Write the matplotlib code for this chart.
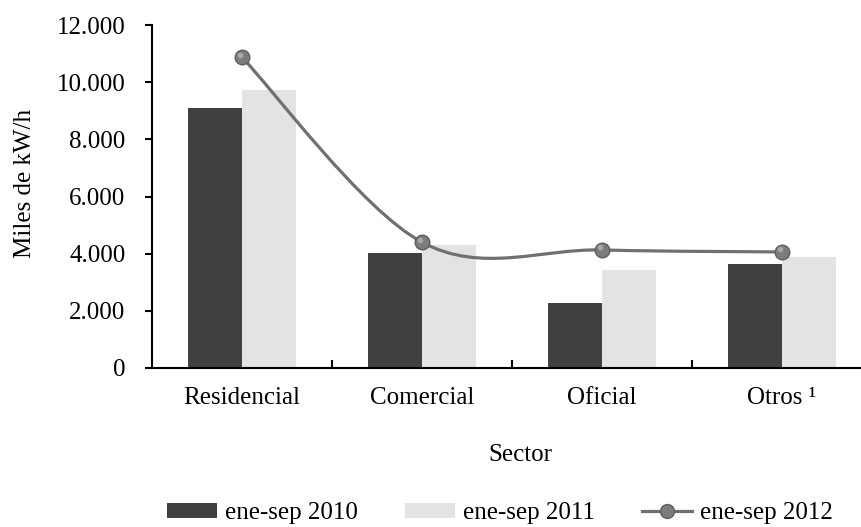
import numpy as np
import matplotlib
matplotlib.use("Agg")
import matplotlib.pyplot as plt
from matplotlib.path import Path
from matplotlib.patches import PathPatch, Patch
from matplotlib.lines import Line2D
from matplotlib.ticker import FuncFormatter, FixedLocator

plt.rcParams['font.family'] = ['Liberation Serif', 'DejaVu Serif']

categories = ["Residencial", "Comercial", "Oficial", "Otros ¹"]
s2010 = [9080, 4020, 2270, 3640]
s2011 = [9720, 4300, 3430, 3880]
s2012 = [10870, 4400, 4130, 4060]
series_labels = ["ene-sep 2010", "ene-sep 2011", "ene-sep 2012"]
yticks = [0, 2000, 4000, 6000, 8000, 10000, 12000]

FS = 18
W, H = 862, 527
fig = plt.figure(figsize=(W / 100, H / 100), dpi=100)
ax = fig.add_axes([152 / W, (H - 368) / H, 720 / W, 343 / H])

x = np.arange(len(categories))
bw = 0.3
ax.bar(x - bw, s2010, width=bw, align='edge', color='#404040', zorder=2)
ax.bar(x, s2011, width=bw, align='edge', color='#e3e3e3', zorder=2)

# smoothed line (Catmull-Rom -> cubic Bezier)
pts = np.column_stack([x, s2012]).astype(float)
n = len(pts)
verts = [pts[0]]
codes = [Path.MOVETO]
for i in range(n - 1):
    p0 = pts[i - 1] if i > 0 else pts[i]
    p1 = pts[i]
    p2 = pts[i + 1]
    p3 = pts[i + 2] if i + 2 < n else pts[i + 1]
    c1 = p1 + (p2 - p0) / 6.0
    c2 = p2 - (p3 - p1) / 6.0
    verts += [c1, c2, p2]
    codes += [Path.CURVE4] * 3
ax.add_patch(PathPatch(Path(verts, codes), facecolor='none', edgecolor='#707070',
                       lw=2.3, zorder=3, capstyle='round'))
ax.plot(x, s2012, linestyle='none', marker='o', ms=10.5, mfc='#7c7c7c',
        mec='#5e5e5e', mew=1.0, zorder=4)
ax.plot(x - 0.012, np.array(s2012) + 90, linestyle='none', marker='o', ms=4,
        mfc='#a8a8a8', mec='none', zorder=5)

ax.set_xlim(-0.5, 3.5)
ax.set_ylim(0, 12000)
ax.yaxis.set_major_locator(FixedLocator(yticks))
ax.yaxis.set_major_formatter(FuncFormatter(lambda v, p: f"{int(v):,}".replace(",", ".")))
ax.set_xticks(x)
ax.set_xticklabels(categories)
ax.xaxis.set_minor_locator(FixedLocator(x[:-1] + 0.5))
ax.tick_params(axis='x', which='major', length=0, pad=14, labelsize=FS)
ax.tick_params(axis='x', which='minor', direction='in', length=6, width=1.5)
ax.tick_params(axis='y', direction='out', length=5, width=1.5, pad=14, labelsize=FS)
for s in ['top', 'right']:
    ax.spines[s].set_visible(False)
for s in ['left', 'bottom']:
    ax.spines[s].set_linewidth(1.5)
    ax.spines[s].set_color('black')

fig.text(520 / W, 1 - 455 / H, "Sector", ha='center', va='center', fontsize=FS)
fig.text(25 / W, 1 - 183 / H, "Miles de kW/h", ha='center', va='center',
         rotation=90, fontsize=FS)

handles = [Patch(facecolor='#404040'), Patch(facecolor='#e3e3e3'),
           Line2D([0], [0], color='#707070', lw=2.3, marker='o', ms=10,
                  mfc='#7c7c7c', mec='#5e5e5e')]
fig.legend(handles, series_labels, loc='center', bbox_to_anchor=(500 / W, 1 - 513 / H),
           ncol=3, frameon=False, fontsize=FS, handlelength=2.0, handleheight=0.55,
           handletextpad=0.3, columnspacing=1.9, borderpad=0, borderaxespad=0)

fig.savefig("out.png", dpi=100)
